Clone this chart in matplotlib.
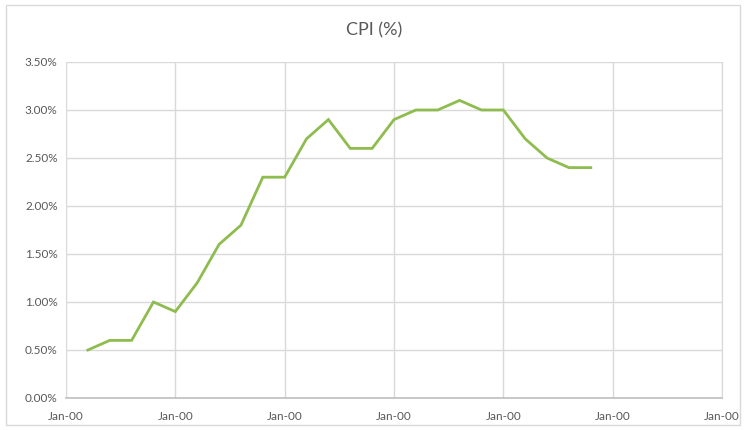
import matplotlib
matplotlib.use("Agg")
import matplotlib.pyplot as plt
from matplotlib.patches import Rectangle
from matplotlib.ticker import FuncFormatter, MultipleLocator

plt.rcParams['font.family'] = ['Lato', 'DejaVu Sans']

cpi = [0.5, 0.6, 0.6, 1.0, 0.9, 1.2, 1.6, 1.8, 2.3, 2.3, 2.7, 2.9, 2.6, 2.6,
       2.9, 3.0, 3.0, 3.1, 3.0, 3.0, 2.7, 2.5, 2.4, 2.4]
x_labels = ["Jan-00"] * 7
title = "CPI (%)"

fig = plt.figure(figsize=(7.48, 4.30), dpi=100)
W, H = 748, 430
ax = fig.add_axes([66 / W, 1 - 398 / H, (722 - 66) / W, (398 - 62) / H])

xs = list(range(len(cpi)))
ax.plot(xs, cpi, color='#8fbc4f', linewidth=2.0, solid_joinstyle='miter')

ax.set_xlim(-1, 29)
ax.set_ylim(0, 3.5)
ax.set_xticks([-1, 4, 9, 14, 19, 24, 29])
ax.set_xticklabels(x_labels)
ax.yaxis.set_major_locator(MultipleLocator(0.5))
ax.yaxis.set_major_formatter(FuncFormatter(lambda v, p: f"{v:.2f}%"))

ax.grid(True, color='#d9d9d9', linewidth=1.0)
ax.set_axisbelow(True)
for s in ['top', 'left']:
    ax.spines[s].set_visible(False)
ax.spines['right'].set_color('#d9d9d9')
ax.spines['bottom'].set_color('#bfbfbf')
ax.spines['bottom'].set_linewidth(1.2)
ax.tick_params(axis='both', length=0, labelsize=8.5, colors='#595959')
ax.tick_params(axis='x', pad=9)
ax.tick_params(axis='y', pad=6)

fig.text(0.5, 1 - 30 / H, title, ha='center', va='center', fontsize=13, color='#595959')
fig.patches.append(Rectangle((6 / W, 5 / H), (740 - 6) / W, (425 - 5) / H,
                             transform=fig.transFigure, fill=False,
                             edgecolor='#d9d9d9', linewidth=1.0))

fig.savefig("out.png", dpi=100)
